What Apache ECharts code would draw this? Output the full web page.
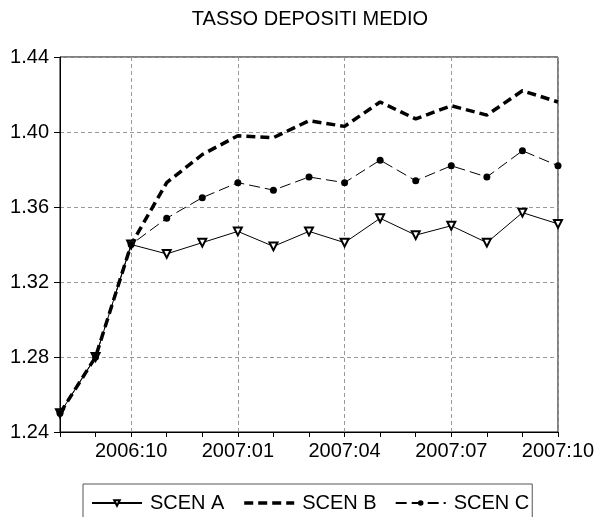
<!DOCTYPE html>
<html>
<head>
<meta charset="utf-8">
<script src="https://cdn.jsdelivr.net/npm/echarts@6/dist/echarts.min.js"></script>
<style>html,body{margin:0;padding:0;background:#fff}#c{width:598px;height:517px}</style>
</head>
<body>
<div id="c"></div>
<script>
const categories = ["2006:08","2006:09","2006:10","2006:11","2006:12","2007:01","2007:02","2007:03","2007:04","2007:05","2007:06","2007:07","2007:08","2007:09","2007:10"];
const scenA = [1.250,1.280,1.340,1.335,1.341,1.347,1.339,1.347,1.341,1.354,1.345,1.350,1.341,1.357,1.351];
const scenB = [1.250,1.280,1.340,1.373,1.388,1.398,1.397,1.406,1.403,1.416,1.407,1.414,1.409,1.422,1.416];
const scenC = [1.250,1.280,1.340,1.354,1.365,1.373,1.369,1.376,1.373,1.385,1.374,1.382,1.376,1.390,1.382];
const yTicks = [1.24,1.28,1.32,1.36,1.40,1.44];
const titleText = "TASSO DEPOSITI MEDIO";

const FONT = "'Liberation Sans', Arial, sans-serif";
const chart = echarts.init(document.getElementById('c'), null, {renderer:'canvas'});
const labelEvery3 = (i) => (i - 2) % 3 === 0 && i >= 2;
chart.setOption({
  animation: false,
  backgroundColor: '#fff',
  title: {
    text: titleText, left: 310, top: 9, textAlign: 'center', padding: 0,
    textStyle: {fontFamily: FONT, fontSize: 20, fontWeight: 'normal', color: '#000'}
  },
  legend: {
    data: [
      {name: 'SCEN A'},
      {name: 'SCEN B', itemStyle: {color: 'rgba(0,0,0,0)', borderColor: 'rgba(0,0,0,0)', borderWidth: 0},
       lineStyle: {color: '#000', width: 3.5, type: [9,5]}},
      {name: 'SCEN C'}
    ],
    left: 83, top: 484,
    padding: [9, 3, 10, 8],
    borderColor: '#555', borderWidth: 1,
    itemWidth: 50, itemHeight: 7, itemGap: 18,
    textStyle: {fontFamily: FONT, fontSize: 20, color: '#000', lineHeight: 20, padding: [0,0,0,3]}
  },
  grid: {left: 60, top: 57, right: 40, bottom: 85, show: true, borderColor: '#000', borderWidth: 1, containLabel: false},
  xAxis: {
    type: 'category', data: categories, boundaryGap: false,
    axisLine: {lineStyle: {color: '#000', width: 1}},
    axisTick: {show: true, interval: 0, length: 5, lineStyle: {color: '#000'}},
    axisLabel: {interval: labelEvery3, margin: 9, fontFamily: FONT, fontSize: 20, color: '#000'},
    splitLine: {show: true, interval: labelEvery3, lineStyle: {color: '#999', type: [4,3], width: 1}}
  },
  yAxis: {
    type: 'value', min: 1.24, max: 1.44, interval: 0.04,
    axisLine: {show: true, lineStyle: {color: '#000', width: 1}},
    axisTick: {show: true, length: 6, lineStyle: {color: '#000'}},
    axisLabel: {margin: 11, fontFamily: FONT, fontSize: 20, color: '#000',
      formatter: (v) => { const t = yTicks.find(x => Math.abs(x - v) < 1e-9); return (t !== undefined ? t : v).toFixed(2); },
      padding: [0,0,5,0]},
    splitLine: {show: true, lineStyle: {color: '#999', type: [4,3], width: 1}}
  },
  series: [
    {name: 'SCEN A', type: 'line', data: scenA, symbol: 'emptyTriangle', symbolRotate: 180, symbolSize: 8,
     showAllSymbol: true,
     lineStyle: {color: '#000', width: 1}, itemStyle: {color: '#000', borderColor: '#000', borderWidth: 1}},
    {name: 'SCEN B', type: 'line', data: scenB, symbol: 'none',
     lineStyle: {color: '#000', width: 3.5, type: [9,5]}, itemStyle: {color: '#000'}},
    {name: 'SCEN C', type: 'line', data: scenC, symbol: 'circle', symbolSize: 7, showAllSymbol: true,
     lineStyle: {color: '#000', width: 1, type: [11,5]}, itemStyle: {color: '#000'}}
  ]
});
</script>
</body>
</html>
